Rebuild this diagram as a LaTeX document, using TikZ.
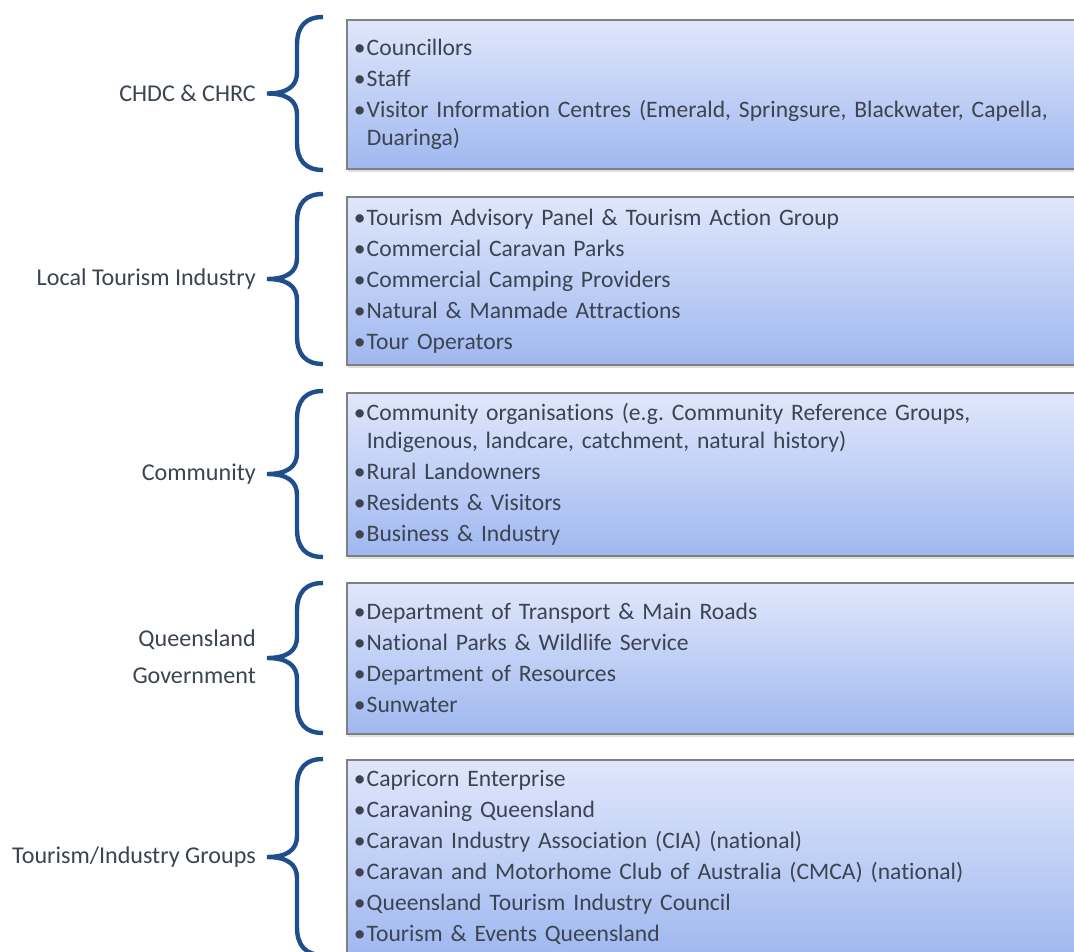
\documentclass[tikz,border=0pt]{standalone}
\usepackage{fontspec}
\setmainfont[Ligatures={NoCommon}]{Carlito}
\usetikzlibrary{shadows}

\definecolor{bracecol}{RGB}{31,78,140}
\definecolor{inkcol}{RGB}{59,68,80}
\definecolor{boxtop}{RGB}{224,231,251}
\definecolor{boxbot}{RGB}{160,184,240}
\definecolor{boxline}{RGB}{128,128,128}

% bulleted entries: the first one opens the list, the others start a new paragraph
\newcommand\bulfirst{\noindent\makebox[14pt][c]{•}}
\newcommand\bul{\par\bulfirst}
% continuation line of a wrapped entry, aligned under the text
\newcommand\cont{\\\hspace*{14pt}}

% curly brace on the left of a group, from y=#1 down to y=#2
\newcommand\sidebrace[2]{%
  \pgfmathsetmacro\brTop{-(#1)}%
  \pgfmathsetmacro\brBot{-(#2)}%
  \pgfmathsetmacro\brMid{(\brTop+\brBot)/2}%
  \draw[bracestroke] (323,\brTop) .. controls (306,\brTop) and (297,\brTop-9) .. (297,\brTop-28)
    -- (297,\brMid+21) .. controls (297,\brMid+7) and (287,\brMid) .. (267,\brMid)
    .. controls (287,\brMid) and (297,\brMid-7) .. (297,\brMid-21)
    -- (297,\brBot+28) .. controls (297,\brBot+9) and (306,\brBot) .. (323,\brBot);}

\tikzset{
  bracestroke/.style={draw=bracecol, line width=4.4pt},
  groupbox/.style={draw=boxline, line width=1.5pt, top color=boxtop, bottom color=boxbot,
    anchor=north west, inner xsep=6pt, inner ysep=0pt, text width=900pt, align=left,
    text=inkcol, minimum width=912pt,
    font={\fontsize{23.6pt}{28pt}\selectfont\setlength{\parskip}{3pt}\frenchspacing},
    drop shadow={opacity=0.25, shadow xshift=1pt, shadow yshift=-3pt}},
  grouplabel/.style={anchor=east, align=right, text=inkcol, inner sep=0pt,
    font={\fontsize{24.1pt}{37pt}\selectfont}}
}

\begin{document}
\begin{tikzpicture}[x=1pt,y=1pt]
\useasboundingbox (0,0) rectangle (1074,-951);
\clip (0,0) rectangle (1074,-951);
\fill[white] (0,0) rectangle (1074,-951);

% group boxes
\node[groupbox, minimum height=149pt] (b1) at (346,-19) {%
  \bulfirst Councillors
  \bul Staff
  \bul Visitor Information Centres (Emerald, Springsure, Blackwater, Capella,\cont Duaringa)};
\node[groupbox, minimum height=168pt] (b2) at (346,-196) {%
  \bulfirst Tourism Advisory Panel \& Tourism Action Group
  \bul Commercial Caravan Parks
  \bul Commercial Camping Providers
  \bul Natural \& Manmade Attractions
  \bul Tour Operators};
\node[groupbox, minimum height=163pt] (b3) at (346,-392) {%
  \bulfirst Community organisations (e.g. Community Reference Groups,\cont Indigenous, landcare, catchment, natural history)
  \bul Rural Landowners
  \bul Residents \& Visitors
  \bul Business \& Industry};
\node[groupbox, minimum height=151pt] (b4) at (346,-582) {%
  \bulfirst Department of Transport \& Main Roads
  \bul National Parks \& Wildlife Service
  \bul Department of Resources
  \bul Sunwater};
\node[groupbox, minimum height=196pt] (b5) at (346,-759) {%
  \bulfirst Capricorn Enterprise
  \bul Caravaning Queensland
  \bul Caravan Industry Association (CIA) (national)
  \bul Caravan and Motorhome Club of Australia (CMCA) (national)
  \bul Queensland Tourism Industry Council
  \bul Tourism \& Events Queensland};

% braces
\sidebrace{17}{170}
\sidebrace{194}{364}
\sidebrace{391}{557}
\sidebrace{583}{733}
\sidebrace{759}{955}

% group names
\node[grouplabel] (l1) at (256,-93.5) {CHDC \& CHRC};
\node[grouplabel] (l2) at (256,-279) {Local Tourism Industry};
\node[grouplabel] (l3) at (256,-474) {Community};
\node[grouplabel] (l4) at (256,-657) {Queensland\\Government};
\node[grouplabel] (l5) at (256,-857) {Tourism/Industry Groups};
\end{tikzpicture}
\end{document}
